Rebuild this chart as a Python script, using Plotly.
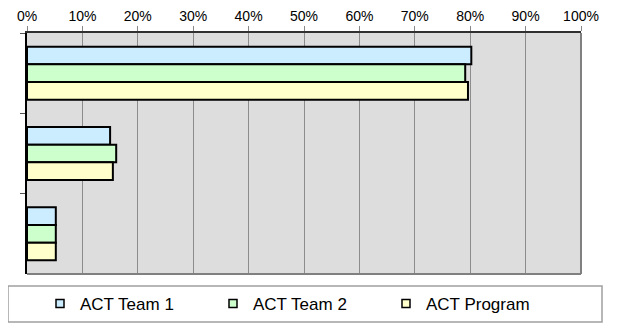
import plotly.graph_objects as go

categories = ["Group 1", "Group 2", "Group 3"]
team1 = [0.802, 0.150, 0.052]
team2 = [0.791, 0.161, 0.052]
program = [0.796, 0.155, 0.052]
series_names = ["ACT Team 1", "ACT Team 2", "ACT Program"]
colors = ["#CCECFF", "#CCFFCC", "#FFFFCC"]

# page body adds an 8px offset, so the figure is a bit smaller than the window
OFF = 8
W, H = 620 - OFF, 324 - OFF
L, R, T, B = 27 - OFF, 39, 33 - OFF, 50
pw, ph = W - L - R, H - T - B


def px_x(x):
    # window pixel -> paper coordinate
    return (x - OFF - L) / pw


def px_y(y):
    return (H - B - (y - OFF)) / ph


fig = go.Figure()
for name, vals, col in zip(series_names, [team1, team2, program], colors):
    fig.add_trace(go.Bar(y=categories, x=vals, orientation='h', name=name,
                         marker=dict(color=col, line=dict(color='black', width=2)),
                         showlegend=False))
    # small square legend entries
    fig.add_trace(go.Scatter(x=[None], y=[None], mode='markers', name=name,
                             marker=dict(symbol='square', size=8, color=col,
                                         line=dict(color='black', width=1.5))))

fig.update_layout(
    width=W, height=H,
    margin=dict(l=L, r=R, t=T, b=B, autoexpand=False),
    barmode='group', bargap=0.34, bargroupgap=0,
    plot_bgcolor='#DDDDDD', paper_bgcolor='white',
    font=dict(family='Liberation Sans, Arial', size=14, color='black'),
    legend=dict(orientation='h', x=px_x(40), xanchor='left', y=px_y(304), yanchor='middle',
                font=dict(size=17), entrywidth=128, entrywidthmode='pixels',
                bgcolor='rgba(0,0,0,0)', itemwidth=30),
    xaxis=dict(side='top', range=[0, 1], dtick=0.1, tickformat='.0%',
               showgrid=True, gridcolor='#8C8C8C', gridwidth=1,
               ticks='outside', ticklen=5, tickcolor='#888888',
               showline=True, linecolor='#303030', linewidth=1.5,
               zeroline=False, fixedrange=True, automargin=False),
    yaxis=dict(autorange='reversed', showticklabels=False, showgrid=False,
               ticks='outside', tickson='boundaries', ticklen=5, tickcolor='#555555',
               showline=True, linecolor='black', linewidth=2, fixedrange=True,
               automargin=False),
    shapes=[
        dict(type='line', xref='paper', yref='paper', x0=1, x1=1, y0=0, y1=1,
             line=dict(color='#808080', width=2)),
        dict(type='line', xref='paper', yref='paper', x0=0, x1=1, y0=0, y1=0,
             line=dict(color='#808080', width=2)),
        dict(type='rect', xref='paper', yref='paper', x0=px_x(8), x1=px_x(602),
             y0=px_y(286), y1=px_y(322), line=dict(color='#A0A0A0', width=1.5)),
        dict(type='line', xref='paper', yref='paper', x0=px_x(615), x1=px_x(615),
             y0=px_y(8), y1=px_y(324), line=dict(color='#D8D8D8', width=1.5)),
    ],
)

fig.write_html("out.html")
